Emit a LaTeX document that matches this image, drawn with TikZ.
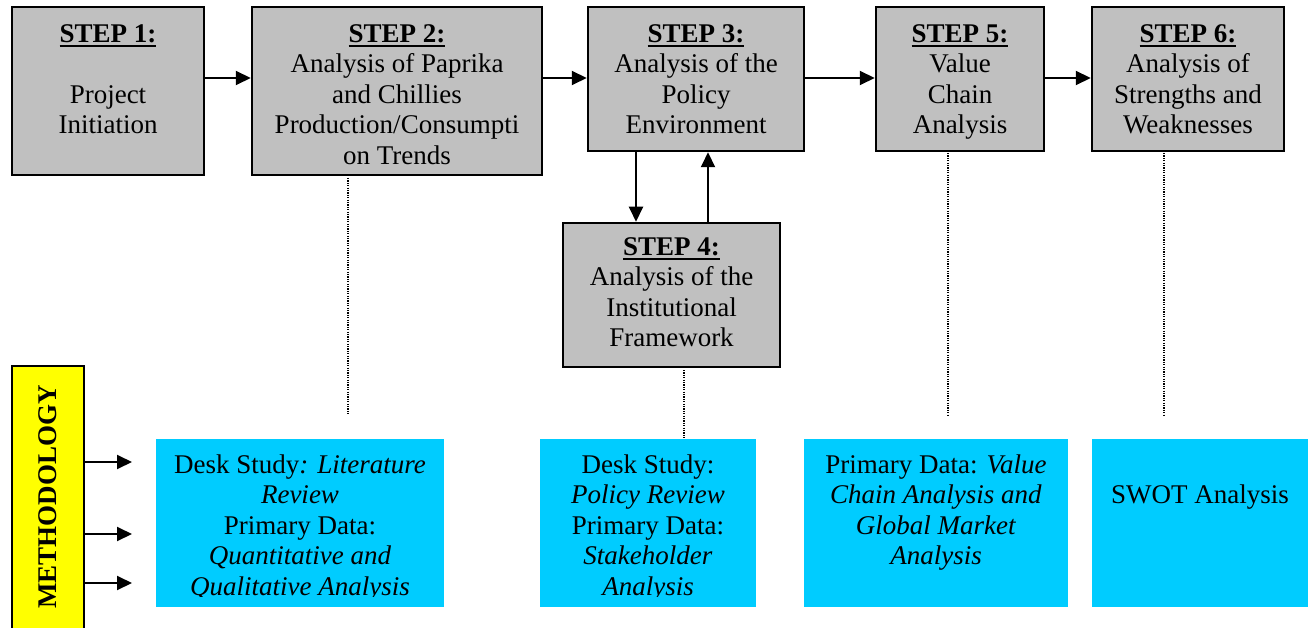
\documentclass[tikz,border=0pt]{standalone}
\usepackage{fontspec}
\setmainfont{Liberation Serif}
\usetikzlibrary{arrows.meta}
\definecolor{stepgray}{HTML}{C0C0C0}
\definecolor{methblue}{HTML}{00CCFF}
\definecolor{methyellow}{HTML}{FFFF00}
\newcommand\sr{\rule{0pt}{22pt}}
\newcommand\stepul[1]{\setbox0\hbox{\textbf{#1}}\rlap{\rule[-5pt]{\wd0}{1.8pt}}\box0}
\begin{document}
\begin{tikzpicture}[x=1pt,y=-1pt,
 stepbox/.style={draw=black, line width=2.5pt, fill=stepgray, inner sep=0pt},
 bluebox/.style={fill=methblue, draw=none, inner sep=0pt},
 txt/.style={anchor=north, inner sep=0pt, align=center, font=\fontsize{27}{30.5}\selectfont},
 arr/.style={line width=2pt, -{Triangle[length=15pt,width=14pt]}},
 dots/.style={line width=1.3pt, dash pattern=on 1.2pt off 1.2pt}]
\useasboundingbox (0,0) rectangle (1308,628);
% step boxes
\node[stepbox, minimum width=192pt, minimum height=168pt] (s1) at (108,91) {};
\node[stepbox, minimum width=290pt, minimum height=168pt] (s2) at (397,91) {};
\node[stepbox, minimum width=216pt, minimum height=144pt] (s3) at (696,79) {};
\node[stepbox, minimum width=217pt, minimum height=144pt] (s4) at (671.5,295) {};
\node[stepbox, minimum width=168pt, minimum height=144pt] (s5) at (960,79) {};
\node[stepbox, minimum width=192pt, minimum height=144pt] (s6) at (1188,79) {};
% step texts
\node[txt] (t1) at (108,20) {\sr\stepul{STEP 1:}\\\mbox{}\\Project\\Initiation};
\node[txt] (t2) at (397,20) {\sr\stepul{STEP 2:}\\Analysis of Paprika\\and Chillies\\Production/Consumpti\\on Trends};
\node[txt] (t3) at (696,20) {\sr\stepul{STEP 3:}\\Analysis of the\\Policy\\Environment};
\node[txt] (t4) at (671.5,233) {\sr\stepul{STEP 4:}\\Analysis of the\\Institutional\\Framework};
\node[txt] (t5) at (960,20) {\sr\stepul{STEP 5:}\\Value\\Chain\\Analysis};
\node[txt] (t6) at (1188,20) {\sr\stepul{STEP 6:}\\Analysis of\\Strengths and\\Weaknesses};
% blue boxes
\node[bluebox, minimum width=288pt, minimum height=168pt] (ba) at (300,523) {};
\node[bluebox, minimum width=216pt, minimum height=168pt] (bb) at (648,523) {};
\node[bluebox, minimum width=264pt, minimum height=168pt] (bc) at (936,523) {};
\node[bluebox, minimum width=216pt, minimum height=168pt] (bd) at (1200,523) {};
\begin{scope}
\clip (0,0) rectangle (1308,596);
\node[txt] (ta) at (300,451) {\sr Desk Study\textit{: Literature}\\\textit{Review}\\Primary Data:\\\textit{Quantitative and}\\\textit{Qualitative Analysis}};
\node[txt] (tb) at (648,451) {\sr Desk Study:\\\textit{Policy Review}\\Primary Data:\\\textit{Stakeholder}\\\textit{Analysis}};
\end{scope}
\node[txt] (tc) at (936,451) {\sr Primary Data: \textit{Value}\\\textit{Chain Analysis and}\\\textit{Global Market}\\\textit{Analysis}};
\node[txt] (td) at (1200,451) {\sr\mbox{}\\SWOT Analysis};
% methodology
\node[draw=black, line width=2.5pt, fill=methyellow, minimum width=72pt, minimum height=280pt, inner sep=0pt] (meth) at (48,506) {};
\node[rotate=90, inner sep=0pt, font=\bfseries\fontsize{27}{30}\selectfont] (mt) at (48,497) {METHODOLOGY};
% helper coordinates
\coordinate (hy) at (0,78);
\coordinate (dx) at (636,0);
\coordinate (ux) at (708,0);
\coordinate (m1) at (132,462);
\coordinate (m2) at (132,534);
\coordinate (m3) at (132,583);
\coordinate (d2a) at (348,178);
\coordinate (d2b) at (348,415);
\coordinate (d4a) at (684,370);
\coordinate (d5a) at (948,153);
\coordinate (d5b) at (948,415);
\coordinate (d6a) at (1164,153);
\coordinate (d6b) at (1164,415);
% arrows
\draw[arr] (s1.east |- hy) -- (s2.west |- hy);
\draw[arr] (s2.east |- hy) -- (s3.west |- hy);
\draw[arr] (s3.east |- hy) -- (s5.west |- hy);
\draw[arr] (s5.east |- hy) -- (s6.west |- hy);
\draw[arr] (s3.south -| dx) -- (s4.north -| dx);
\draw[arr] (s4.north -| ux) -- (s3.south -| ux);
\draw[arr] (meth.east |- m1) -- (m1);
\draw[arr] (meth.east |- m2) -- (m2);
\draw[arr] (meth.east |- m3) -- (m3);
% dotted links
\draw[dots] (d2a) -- (d2b);
\draw[dots] (d4a) -- (bb.north -| d4a);
\draw[dots] (d5a) -- (d5b);
\draw[dots] (d6a) -- (d6b);
\end{tikzpicture}
\end{document}
